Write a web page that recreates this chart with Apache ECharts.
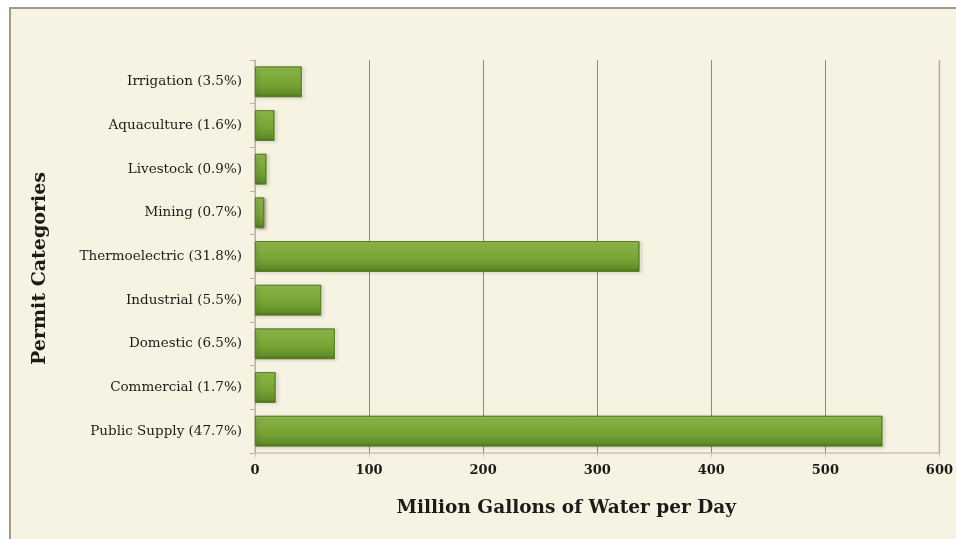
<!DOCTYPE html>
<html>
<head>
<meta charset="utf-8">
<script src="https://cdn.jsdelivr.net/npm/echarts@6/dist/echarts.min.js"></script>
<style>
  html, body { margin: 0; padding: 0; background: #ffffff; }
  #chart { width: 956px; height: 539px; }
</style>
</head>
<body>
<div id="chart"></div>
<script>
// Permit categories, listed bottom to top
const categories = [
  'Public Supply (47.7%)',
  'Commercial (1.7%)',
  'Domestic (6.5%)',
  'Industrial (5.5%)',
  'Thermoelectric (31.8%)',
  'Mining (0.7%)',
  'Livestock (0.9%)',
  'Aquaculture (1.6%)',
  'Irrigation (3.5%)'
];
// Permitted withdrawals, million gallons per day
const withdrawals = [550, 18, 70, 58, 337, 8, 10, 17, 41];
const xTicks = [0, 100, 200, 300, 400, 500, 600];

const FONT = "'DejaVu Serif', serif";
const chart = echarts.init(document.getElementById('chart'));

const barFill = new echarts.graphic.LinearGradient(0, 0, 0, 1, [
  { offset: 0, color: '#a9cb62' },
  { offset: 0.12, color: '#86b143' },
  { offset: 0.6, color: '#76a334' },
  { offset: 0.9, color: '#5f8d27' },
  { offset: 1, color: '#4a7020' }
]);

const frame = {
  type: 'rect',
  z: -10,
  silent: true,
  shape: { x: 10, y: 8, width: 960, height: 545 },
  style: { fill: '#f6f3e2', stroke: '#a3968c', lineWidth: 2 }
};

chart.setOption({
  backgroundColor: '#ffffff',
  animation: false,
  graphic: [frame],
  grid: { left: 255, right: 14, top: 60, bottom: 86, containLabel: false },
  xAxis: {
    type: 'value',
    min: xTicks[0],
    max: xTicks[xTicks.length - 1],
    interval: 100,
    name: 'Million Gallons of Water per Day',
    nameLocation: 'middle',
    nameGap: 46,
    nameTextStyle: {
      fontFamily: FONT, fontSize: 18.5, fontWeight: 'bold', color: '#1e1a18',
      padding: [0, 62, 0, 0]
    },
    axisLine: { show: true, lineStyle: { color: '#c9c0bb', width: 1.5 } },
    axisTick: { show: true, length: 4, lineStyle: { color: '#c9c0bb' } },
    axisLabel: { fontFamily: FONT, fontSize: 13, fontWeight: 'bold', color: '#1e1a18', margin: 11 },
    splitLine: { show: true, lineStyle: { color: '#93877f', width: 1 } }
  },
  yAxis: {
    type: 'category',
    data: categories,
    name: 'Permit Categories',
    nameLocation: 'middle',
    nameGap: 205,
    nameRotate: 90,
    nameTextStyle: {
      fontFamily: FONT, fontSize: 19, fontWeight: 'bold', color: '#1e1a18',
      padding: [0, 24, 0, 0]
    },
    axisLine: { show: true, lineStyle: { color: '#c9c0bb', width: 1.5 } },
    axisTick: { show: true, length: 5, lineStyle: { color: '#b9b0aa' } },
    axisLabel: { fontFamily: FONT, fontSize: 13.5, color: '#1e1a18', margin: 13 },
    splitLine: { show: false }
  },
  series: [{
    type: 'bar',
    data: withdrawals,
    barCategoryGap: '30%',
    itemStyle: {
      color: barFill,
      borderColor: '#557d22',
      borderWidth: 0.8,
      shadowColor: 'rgba(60,50,40,0.35)',
      shadowBlur: 3,
      shadowOffsetX: 2,
      shadowOffsetY: 1
    }
  }]
});

// Right edge of the plotting area
const rect = chart.getModel().getComponent('grid').coordinateSystem.getRect();
chart.setOption({
  graphic: [frame, {
    type: 'polyline',
    z: 1,
    silent: true,
    shape: { points: [[rect.x + rect.width, rect.y], [rect.x + rect.width, rect.y + rect.height]] },
    style: { stroke: '#b5aaa4', lineWidth: 1.5 }
  }]
});
</script>
</body>
</html>
